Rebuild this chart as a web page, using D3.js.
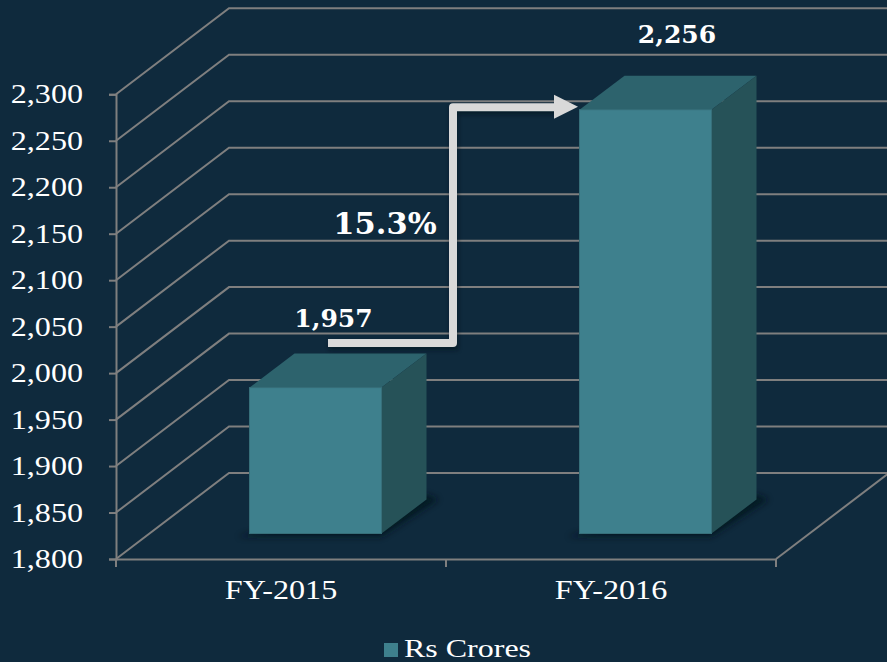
<!DOCTYPE html>
<html>
<head>
<meta charset="utf-8">
<script src="https://cdn.jsdelivr.net/npm/d3@7"></script>
<style>
html, body { margin: 0; padding: 0; background: #0f2a3d; overflow: hidden; }
text { font-family: "Liberation Serif", serif; fill: #fff; }
text.bold { font-family: "DejaVu Serif", serif; font-weight: bold; }
</style>
</head>
<body>
<div id="chart"></div>
<script>
var categories = ["FY-2015", "FY-2016"];
var values = [1957, 2256];
var valueLabels = ["1,957", "2,256"];
var yTicks = [1800, 1850, 1900, 1950, 2000, 2050, 2100, 2150, 2200, 2250, 2300];
var seriesName = "Rs Crores";
var growthLabel = "15.3%";

var width = 887,
    height = 662;

var svg = d3.select("#chart").append("svg")
  .attr("width", width)
  .attr("height", height);

var defs = svg.append("defs");
defs.append("filter").attr("id", "soft")
  .attr("x", "-20%").attr("y", "-20%").attr("width", "140%").attr("height", "140%")
  .append("feGaussianBlur").attr("stdDeviation", 3);
defs.append("filter").attr("id", "tight")
  .attr("x", "-10%").attr("y", "-10%").attr("width", "120%").attr("height", "120%")
  .append("feGaussianBlur").attr("stdDeviation", 2);

var y = d3.scaleLinear().domain([1800, 2300]).range([559, 94.3]);
var x = d3.scaleBand().domain(categories).range([116, 776])
  .paddingInner(0.6).paddingOuter(0.3);
var xAxisBand = d3.scaleBand().domain(categories).range([116, 776]);

// 3d offsets: wall depth, where the bar starts in the floor, bar depth
var depth = {x: 113, y: -86};
var inset = {x: 34.5, y: -25.5};
var barDepth = {x: 45, y: -34};
var gridColor = "#7f7f7f";

// the font is a narrow serif, so stretch it to the wide look of the original
function widen(sel, stretch) {
  sel.attr("textLength", function() { return this.getComputedTextLength() * (stretch || 1.19); })
    .attr("lengthAdjust", "spacingAndGlyphs");
}

// wall gridlines
var grid = svg.append("g").attr("fill", "none").attr("stroke", gridColor).attr("stroke-width", 2);
grid.selectAll("path.wall")
  .data(yTicks)
  .enter().append("path")
  .attr("class", "wall")
  .attr("d", function(d) {
    return "M" + x.range()[0] + "," + y(d) + "L" + (x.range()[0] + depth.x) + "," + (y(d) + depth.y) + "L" + width + "," + (y(d) + depth.y);
  });

// floor edge at right
var floorEnd = x.range()[1];
grid.append("path")
  .attr("d", "M" + floorEnd + "," + y(1800) + "L" + (floorEnd + depth.x) + "," + (y(1800) + depth.y));

// y axis
var yAxis = svg.append("g")
  .attr("transform", "translate(" + x.range()[0] + ",0)")
  .call(d3.axisLeft(y).tickValues(yTicks).tickFormat(d3.format(",")).tickSize(7).tickPadding(26));
yAxis.selectAll("path, line").attr("stroke", gridColor).attr("stroke-width", 2);
yAxis.selectAll("text").style("font-size", "27px").attr("fill", "#fff").call(widen);

// x axis
var xAxis = svg.append("g")
  .attr("transform", "translate(0," + y(1800) + ")")
  .call(d3.axisBottom(xAxisBand).tickSize(0).tickPadding(21));
xAxis.select("path").attr("stroke", gridColor).attr("stroke-width", 2);
xAxis.selectAll("text").style("font-size", "27px").attr("fill", "#fff").call(widen);
xAxis.selectAll(".edge")
  .data([0, 1, 2])
  .enter().append("line")
  .attr("class", "edge")
  .attr("x1", function(d) { return x.range()[0] + d * xAxisBand.step(); })
  .attr("x2", function(d) { return x.range()[0] + d * xAxisBand.step(); })
  .attr("y1", 0)
  .attr("y2", 8)
  .attr("stroke", gridColor)
  .attr("stroke-width", 2);

// bars
var bars = svg.selectAll("g.bar")
  .data(categories.map(function(c, i) { return {cat: c, value: values[i], label: valueLabels[i], i: i}; }))
  .enter().append("g")
  .attr("class", "bar");

function barBox(d) {
  var x0 = x(d.cat) + inset.x,
      x1 = x0 + x.bandwidth(),
      yb = y(1800) + inset.y,
      yt = y(d.value) + inset.y;
  return {x0: x0, x1: x1, yb: yb, yt: yt};
}

// shadow on the floor
bars.append("path")
  .attr("filter", "url(#soft)")
  .attr("fill", "#06141f")
  .attr("opacity", 0.8)
  .attr("d", function(d) {
    var b = barBox(d);
    return "M" + (b.x0 - 12) + "," + (b.yb + 3) + "L" + b.x1 + "," + (b.yb + 3) +
      "L" + (b.x1 + barDepth.x + 12) + "," + (b.yb + barDepth.y) + "L" + (b.x1 + barDepth.x) + "," + (b.yb + barDepth.y - 5) + "L" + b.x0 + "," + b.yb + "Z";
  });

bars.append("path")
  .attr("fill", "#2d636d")
  .attr("d", function(d) {
    var b = barBox(d);
    return "M" + b.x0 + "," + b.yt + "L" + (b.x0 + barDepth.x) + "," + (b.yt + barDepth.y) +
      "L" + (b.x1 + barDepth.x) + "," + (b.yt + barDepth.y) + "L" + b.x1 + "," + b.yt + "Z";
  });

bars.append("path")
  .attr("fill", "#265258")
  .attr("d", function(d) {
    var b = barBox(d);
    return "M" + b.x1 + "," + b.yt + "L" + (b.x1 + barDepth.x) + "," + (b.yt + barDepth.y) +
      "L" + (b.x1 + barDepth.x) + "," + (b.yb + barDepth.y) + "L" + b.x1 + "," + b.yb + "Z";
  });

bars.append("rect")
  .attr("fill", "#3e808d")
  .attr("stroke", "#376f7a")
  .attr("x", function(d) { return barBox(d).x0; })
  .attr("y", function(d) { return barBox(d).yt; })
  .attr("width", x.bandwidth())
  .attr("height", function(d) { return barBox(d).yb - barBox(d).yt; });

// value labels, hand placed in the original
var labelShift = [{x: 18, y: -61}, {x: 31.5, y: -66.5}];
bars.append("text")
  .attr("class", "bold")
  .attr("x", function(d) { return barBox(d).x0 + x.bandwidth() / 2 + labelShift[d.i].x; })
  .attr("y", function(d) { return barBox(d).yt + labelShift[d.i].y; })
  .attr("text-anchor", "middle")
  .style("font-size", "25px")
  .text(function(d) { return d.label; });

// growth arrow
var b0 = barBox({cat: categories[0], value: values[0]}),
    b1 = barBox({cat: categories[1], value: values[1]});
var arrowX = 453,
    arrowStartY = b0.yt - 44.5,
    arrowEndY = b1.yt - 2.5;
var arrowPath = "M328," + arrowStartY + "L" + arrowX + "," + arrowStartY + "L" + arrowX + "," + arrowEndY + "L556," + arrowEndY;
var arrow = svg.append("g");
arrow.append("path").attr("d", arrowPath).attr("fill", "none").attr("stroke", "#06141f")
  .attr("stroke-width", 8).attr("filter", "url(#tight)").attr("opacity", 0.6).attr("transform", "translate(1,3)");
arrow.append("path").attr("d", arrowPath).attr("fill", "none").attr("stroke", "#d9d9d9")
  .attr("stroke-width", 8).attr("stroke-linejoin", "round");
arrow.append("path").attr("fill", "#d9d9d9")
  .attr("d", "M554," + (arrowEndY - 12.5) + "L578," + (arrowEndY - 0.5) + "L554," + (arrowEndY + 11.5) + "Z");

svg.append("text")
  .attr("class", "bold")
  .attr("x", 385).attr("y", 234)
  .attr("text-anchor", "middle")
  .style("font-size", "30.5px")
  .text(growthLabel);

// legend, sits tight against the bottom edge
var legend = svg.append("g");
legend.append("rect").attr("x", 384).attr("y", 643).attr("width", 14).attr("height", 14).attr("fill", "#3e808d");
legend.append("text").attr("x", 404).attr("y", 656.5).style("font-size", "26px").text(seriesName).call(widen, 1.23);
</script>
</body>
</html>
